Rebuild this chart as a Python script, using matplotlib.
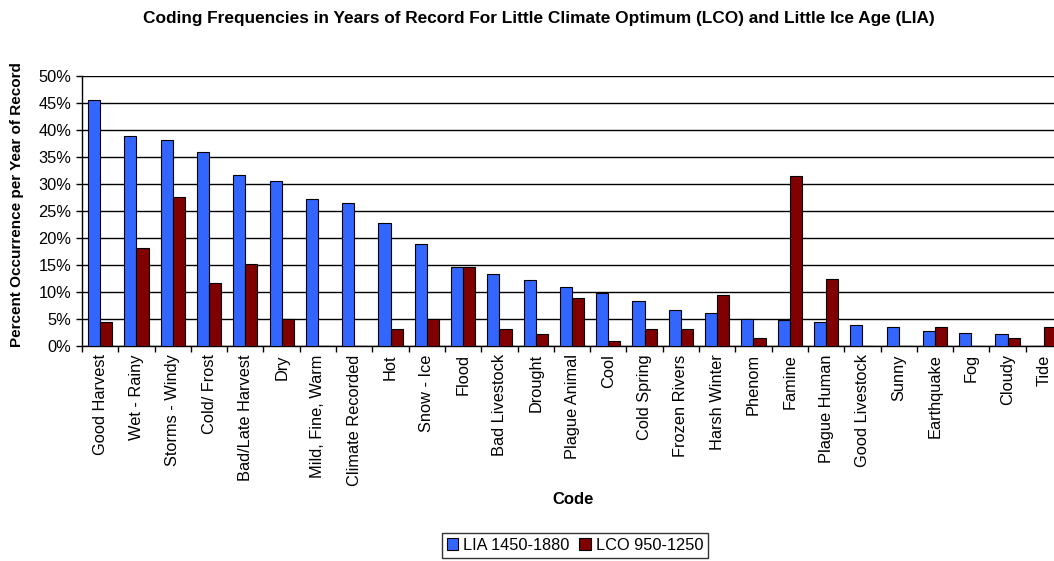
import numpy as np
import matplotlib
matplotlib.use("Agg")
import matplotlib.pyplot as plt
from matplotlib.ticker import PercentFormatter

plt.rcParams['font.family'] = ['Liberation Sans', 'DejaVu Sans']

codes = ["Good Harvest", "Wet - Rainy", "Storms - Windy", "Cold/ Frost",
         "Bad/Late Harvest", "Dry", "Mild, Fine, Warm", "Climate Recorded",
         "Hot", "Snow - Ice", "Flood", "Bad Livestock", "Drought",
         "Plague Animal", "Cool", "Cold Spring", "Frozen Rivers",
         "Harsh Winter", "Phenom", "Famine", "Plague Human",
         "Good Livestock", "Sunny", "Earthquake", "Fog", "Cloudy", "Tide"]
lia = [45.6, 38.9, 38.1, 35.9, 31.7, 30.6, 27.3, 26.5, 22.7, 18.8, 14.6,
       13.3, 12.2, 11.0, 9.75, 8.3, 6.7, 6.1, 5.0, 4.8, 4.4, 3.9, 3.6,
       2.8, 2.5, 2.2, 0.0]
lco = [4.4, 18.2, 27.6, 11.7, 15.2, 5.0, 0.0, 0.0, 3.1, 5.0, 14.6,
       3.1, 2.2, 8.8, 0.9, 3.1, 3.1, 9.4, 1.4, 31.5, 12.4, 0.0, 0.0,
       3.6, 0.0, 1.4, 3.6]

fig = plt.figure(figsize=(10.54, 5.61), dpi=100)
# plot area runs a little past the right edge, as in the original
ax = fig.add_axes([82/1054, 1 - 346/561, 980/1054, 270/561])

x = np.arange(len(codes)) + 0.5
w = 1/3
ax.bar(x - w/2, lia, w, color="#3366FF", edgecolor="black", linewidth=0.8,
       label="LIA 1450-1880", zorder=3)
ax.bar(x + w/2, lco, w, color="#800000", edgecolor="black", linewidth=0.8,
       label="LCO 950-1250", zorder=3)

ax.set_xlim(0, len(codes))
ax.set_ylim(0, 50)
ax.set_yticks(np.arange(0, 51, 5))
ax.yaxis.set_major_formatter(PercentFormatter(decimals=0))
ax.yaxis.grid(True, color="black", linewidth=1, zorder=0)

ax.set_xticks(np.arange(len(codes) + 1))
ax.set_xticklabels([])
ax.set_xticks(x, minor=True)
ax.set_xticklabels(codes, minor=True, rotation=90, fontsize=11.8)
ax.tick_params(axis="x", which="minor", length=0, pad=6)
ax.tick_params(axis="x", which="major", length=4, direction="out", width=1)
ax.tick_params(axis="y", length=4, direction="out", labelsize=11.8, width=1)

for s in ["top", "right"]:
    ax.spines[s].set_visible(False)
for s in ["left", "bottom"]:
    ax.spines[s].set_linewidth(1)

fig.text(539/1054, 1 - 18/561, "Coding Frequencies in Years of Record For Little Climate Optimum (LCO) and Little Ice Age (LIA)",
         ha="center", va="center", fontsize=12.4, fontweight="bold")
fig.text(17/1054, 1 - 205/561, "Percent Occurrence per Year of Record",
         ha="center", va="center", rotation=90, fontsize=11, fontweight="bold")
fig.text(573/1054, 1 - 500/561, "Code", ha="center", va="center",
         fontsize=12, fontweight="bold")

fig.legend(loc="upper center", bbox_to_anchor=(575/1054, 1 - 533/561), ncol=2,
           fontsize=11.8, frameon=True, fancybox=False, edgecolor="black",
           handlelength=0.7, handleheight=0.7, handletextpad=0.3,
           columnspacing=0.6, borderpad=0.3, borderaxespad=0)

fig.savefig("out.png", dpi=100)
